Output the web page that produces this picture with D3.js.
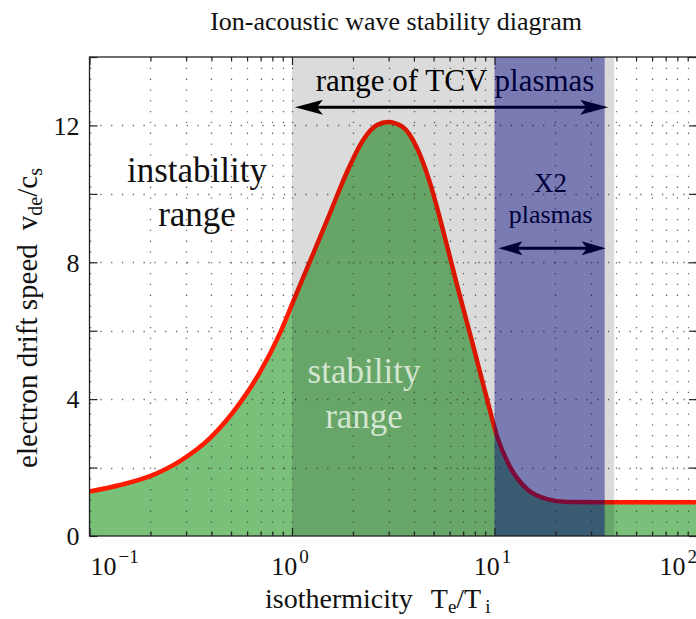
<!DOCTYPE html>
<html>
<head>
<meta charset="utf-8">
<script src="https://cdn.jsdelivr.net/npm/d3@7"></script>
<style>
  body { margin: 0; background: #fff; }
  svg { display: block; }
  text { font-family: "Liberation Serif", "Times New Roman", serif; fill: #111; }
</style>
</head>
<body>
<svg id="chart" width="696" height="619"></svg>
<script>
// Threshold electron drift speed v_de/c_s as a function of Te/Ti
const teOverTi  = [0.1, 0.1415, 0.199, 0.2798, 0.3937, 0.5537, 0.695, 0.8724, 1.0114, 1.2698, 1.5409, 1.8686, 2.2423, 2.6295, 2.98, 3.5327, 4.1429, 4.8028, 5.5683, 6.5279, 7.831, 9.1833, 10.288, 11.928, 14.472, 18.166, 22.8, 33.19, 58.61, 100];
const vdeOverCs = [1.30, 1.49, 1.75, 2.19, 2.86, 3.89, 4.79, 5.93, 6.84, 8.24, 9.44, 10.64, 11.57, 12.01, 12.10, 11.95, 11.34, 10.32, 8.94, 7.34, 5.58, 4.00, 2.92, 2.02, 1.37, 1.08, 0.995, 0.99, 0.99, 0.99];

// Parameter ranges (Te/Ti)
const tcvRange = [1, 39];
const x2Range  = [10, 35];

// Axis ticks
const xDecades     = [0.1, 1, 10, 100];
const xExponents   = ["\u22121", "0", "1", "2"];
const xMinorTicks  = [0.2,0.3,0.4,0.5,0.6,0.7,0.8,0.9, 2,3,4,5,6,7,8,9, 20,30,40,50,60,70,80,90];
const yTicks       = [0, 2, 4, 6, 8, 10, 12, 14];
const yTickLabels  = ["0", "", "4", "", "8", "", "12", ""];
const yGridValues  = [2, 4, 6, 8, 10, 12];

const svg = d3.select("#chart");
const L = 89.5, R = 697, T = 57, B = 536;

const x = d3.scaleLog().domain([0.1, 100]).range([L, R]);
const y = d3.scaleLinear().domain([0, 14]).range([B, T]);

svg.append("defs").append("clipPath").attr("id", "plot-clip")
  .append("rect").attr("x", L).attr("y", T).attr("width", R - L).attr("height", B - T);

const pts = teOverTi.map((t, i) => [t, vdeOverCs[i]]);

const plot = svg.append("g").attr("clip-path", "url(#plot-clip)");

// stable region below the threshold
plot.append("path")
  .datum(pts)
  .attr("fill", "#7ac07a")
  .attr("d", d3.area().x(d => x(d[0])).y0(y(0)).y1(d => y(d[1])).curve(d3.curveMonotoneX));

// dotted grid
const grid = plot.append("g")
  .attr("stroke", "#3a3a3a").attr("stroke-width", 1.3)
  .attr("stroke-dasharray", "1.3,9.5").attr("opacity", 0.75);
grid.selectAll("line.v").data(xDecades.concat(xMinorTicks)).join("line")
  .attr("class", "v")
  .attr("x1", d => Math.round(x(d)) + 0.5).attr("x2", d => Math.round(x(d)) + 0.5)
  .attr("y1", T).attr("y2", B);
grid.selectAll("line.h").data(yGridValues).join("line")
  .attr("class", "h")
  .attr("y1", d => Math.round(y(d)) + 0.5).attr("y2", d => Math.round(y(d)) + 0.5)
  .attr("x1", L).attr("x2", R);

// threshold curve
plot.append("path")
  .datum(pts)
  .attr("fill", "none")
  .attr("stroke", "#ff1a00")
  .attr("stroke-width", 4.5)
  .attr("stroke-linejoin", "round")
  .attr("d", d3.line().x(d => x(d[0])).y(d => y(d[1])).curve(d3.curveMonotoneX));

// double-headed arrow
function arrow(g, x0, x1, yy, len, half, width, color) {
  g.append("line").attr("x1", x0 + len * 0.7).attr("x2", x1 - len * 0.7)
    .attr("y1", yy).attr("y2", yy).attr("stroke", color).attr("stroke-width", width);
  const head = (tip, dir) =>
    `M${tip},${yy} L${tip + dir * len},${yy - half} L${tip + dir * len * 0.78},${yy} L${tip + dir * len},${yy + half} Z`;
  g.append("path").attr("d", head(x0, 1)).attr("fill", color);
  g.append("path").attr("d", head(x1, -1)).attr("fill", color);
}

const notes = plot.append("g");
arrow(notes, x(tcvRange[0]) + 3, x(tcvRange[1]) - 6, y(12.53), 28, 7.5, 3, "#000");
arrow(notes, x(x2Range[0]) + 4, x(x2Range[1]) + 1, y(8.41), 24, 7, 3, "#000");

notes.append("text").attr("x", (x(tcvRange[0]) + x(tcvRange[1])) / 2 + 2).attr("y", y(13.0))
  .attr("text-anchor", "middle").style("font-size", "31px").style("fill", "#000")
  .text("range of TCV plasmas");
notes.append("text").attr("x", x(Math.sqrt(x2Range[0] * x2Range[1])) + 1).attr("y", y(10.05))
  .attr("text-anchor", "middle").style("font-size", "27px").style("fill", "#000")
  .text("X2");
notes.append("text").attr("x", x(Math.sqrt(x2Range[0] * x2Range[1])) + 1).attr("y", y(9.14))
  .attr("text-anchor", "middle").style("font-size", "26px").style("fill", "#000")
  .text("plasmas");

const inst = notes.append("text").attr("text-anchor", "middle").style("font-size", "35px").style("fill", "#111");
inst.append("tspan").attr("x", 197).attr("y", y(10.36)).text("instability");
inst.append("tspan").attr("x", 197).attr("y", y(9.07)).text("range");

// parameter range bands
plot.append("rect")
  .attr("x", x(tcvRange[0])).attr("y", T)
  .attr("width", x(tcvRange[1]) - x(tcvRange[0])).attr("height", B - T)
  .attr("fill", "#000").attr("fill-opacity", 0.14);
plot.append("rect")
  .attr("x", x(x2Range[0])).attr("y", T)
  .attr("width", x(x2Range[1]) - x(x2Range[0])).attr("height", B - T)
  .attr("fill", "#000080").attr("fill-opacity", 0.44);

const stab = plot.append("text").attr("text-anchor", "middle").style("font-size", "35px").style("fill", "#d3e6d1");
stab.append("tspan").attr("x", 364).attr("y", y(4.46)).text("stability");
stab.append("tspan").attr("x", 364).attr("y", y(3.15)).text("range");

// axes: ticks pointing inward on all four sides
const axisStyle = g => {
  g.select(".domain").remove();
  g.selectAll(".tick line").attr("stroke", "#222").attr("stroke-width", 1.2);
};
svg.append("g").attr("transform", `translate(0,${B})`)
  .call(d3.axisBottom(x).tickValues(xDecades).tickSizeInner(-8).tickSizeOuter(0).tickFormat(""))
  .call(axisStyle);
svg.append("g").attr("transform", `translate(0,${B})`)
  .call(d3.axisBottom(x).tickValues(xMinorTicks).tickSizeInner(-4.5).tickSizeOuter(0).tickFormat(""))
  .call(axisStyle);
svg.append("g").attr("transform", `translate(0,${T})`)
  .call(d3.axisTop(x).tickValues(xDecades).tickSizeInner(-8).tickSizeOuter(0).tickFormat(""))
  .call(axisStyle);
svg.append("g").attr("transform", `translate(0,${T})`)
  .call(d3.axisTop(x).tickValues(xMinorTicks).tickSizeInner(-4.5).tickSizeOuter(0).tickFormat(""))
  .call(axisStyle);

const yAxis = svg.append("g").attr("transform", `translate(${L},0)`)
  .call(d3.axisLeft(y).tickValues(yTicks).tickSizeInner(-8).tickSizeOuter(0).tickPadding(10)
    .tickFormat((d, i) => yTickLabels[i]))
  .call(axisStyle);
yAxis.selectAll(".tick text").style("font-size", "26px").attr("dy", "0.34em")
  .style("font-family", "'Liberation Serif', serif").attr("fill", "#111");
svg.append("g").attr("transform", `translate(${R},0)`)
  .call(d3.axisRight(y).tickValues(yTicks).tickSizeInner(-8).tickSizeOuter(0).tickFormat(""))
  .call(axisStyle);

// decade labels 10^n
const xLab = svg.append("g");
xDecades.forEach((d, i) => {
  const anchor = i === 0 ? "start" : (i === xDecades.length - 1 ? "end" : "middle");
  const px = i === 0 ? L + 1 : (i === xDecades.length - 1 ? 697 : x(d) - 2);
  const t = xLab.append("text").attr("x", px).attr("y", 575)
    .attr("text-anchor", anchor).style("font-size", "26px");
  t.append("tspan").text("10");
  t.append("tspan").attr("dx", 2).attr("dy", -12).style("font-size", "19px").text(xExponents[i]);
});

// frame
svg.append("rect").attr("x", L).attr("y", T).attr("width", R - L).attr("height", B - T)
  .attr("fill", "none").attr("stroke", "#222").attr("stroke-width", 1.3);

// titles
svg.append("text").attr("x", 582).attr("y", 30).attr("text-anchor", "end")
  .style("font-size", "26px").text("Ion-acoustic wave stability diagram");

const xt = svg.append("text").attr("x", 265).attr("y", 608).attr("text-anchor", "start").style("font-size", "28px");
xt.append("tspan").text("isothermicity");
xt.append("tspan").attr("dx", 18).text("T");
xt.append("tspan").attr("dy", 5).style("font-size", "19px").text("e");
xt.append("tspan").attr("dy", -5).text("/T");
xt.append("tspan").attr("dx", 4).attr("dy", 5).style("font-size", "19px").text("i");

const yt = svg.append("text").attr("transform", "translate(37,318) rotate(-90)")
  .attr("text-anchor", "middle").style("font-size", "29px");
yt.append("tspan").text("electron drift speed");
yt.append("tspan").attr("dx", 14).text("v");
yt.append("tspan").attr("dy", 5).style("font-size", "20px").text("de");
yt.append("tspan").attr("dy", -5).text("/c");
yt.append("tspan").attr("dy", 5).style("font-size", "20px").text("s");
</script>
</body>
</html>
